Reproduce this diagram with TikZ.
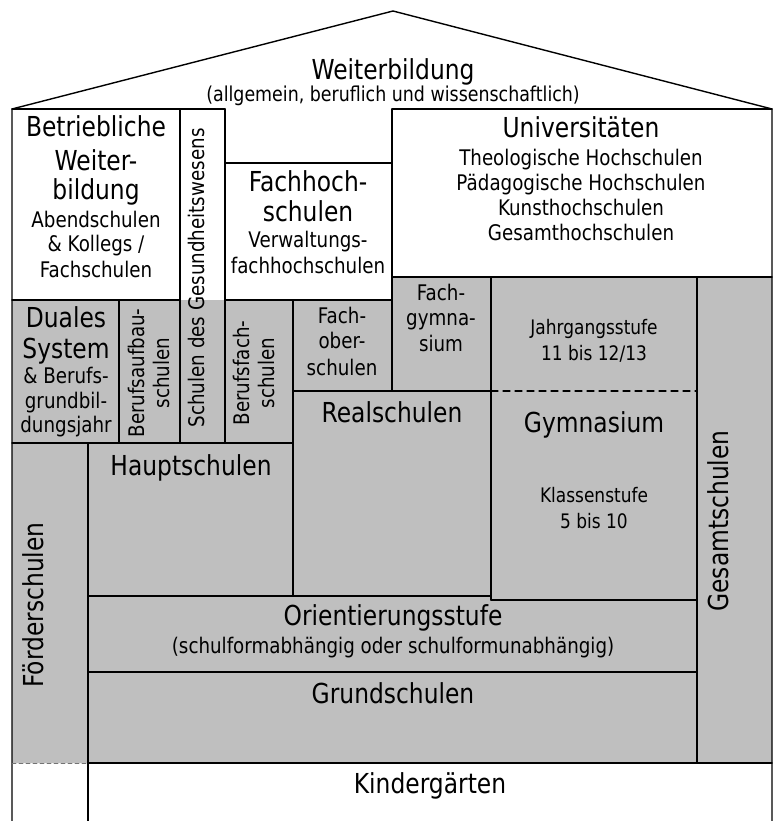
\documentclass[tikz,border=0pt]{standalone}
\usepackage{fontspec}
\setmainfont{DejaVu Sans}[FakeStretch=0.85]
\definecolor{cccccc}{rgb}{0.75,0.75,0.75}
\definecolor{qqqqqq}{rgb}{0,0,0}
\definecolor{wwwwww}{rgb}{0.45,0.45,0.45}
\tikzset{
  bigtxt/.style={font=\fontsize{27.5}{32}\selectfont,anchor=base,inner sep=0pt},
  midtxt/.style={font=\fontsize{21.5}{25}\selectfont,anchor=base,inner sep=0pt},
  smalltxt/.style={font=\fontsize{20}{24}\selectfont,anchor=base,inner sep=0pt},
  rottxt/.style={font=\fontsize{21.5}{25}\selectfont,rotate=90,align=center,inner sep=0pt},
  rotbig/.style={font=\fontsize{27.5}{32}\selectfont,rotate=90,inner sep=0pt}
}
\begin{document}
\begin{tikzpicture}[line cap=round,line join=round,x=1pt,y=-1pt,line width=1.4pt]
\useasboundingbox (0,0) rectangle (777,821);

\fill [color=cccccc] (12,300) -- (392,300) -- (392,277) -- (772,277) -- (772,763) -- (12,763) -- cycle;
\draw [color=qqqqqq] (12,821) -- (12,109) -- (393,11) -- (772,109) -- (772,821);
\draw (12,109)-- (225,109);
\draw (392,109)-- (772,109);
\draw (225,163)-- (392,163);
\draw (392,277)-- (772,277);
\draw (12,300)-- (180,300);
\draw (225,300)-- (392,300);
\draw (293,391)-- (491,391);
\draw [dash pattern=on 7pt off 5pt,line width=1.1pt] (491,391)-- (697,391);
\draw (12,443)-- (293,443);
\draw (88,596)-- (491,596);
\draw (491,600)-- (697,600);
\draw (88,672)-- (697,672);
\draw (88,763)-- (772,763);
\draw [color=wwwwww,dash pattern=on 4pt off 3pt,line width=0.8pt] (12,763)-- (88,763);
\draw (180,109)-- (180,443);
\draw (225,109)-- (225,443);
\draw (392,109)-- (392,391);
\draw (119,300)-- (119,443);
\draw (293,300)-- (293,596);
\draw (491,277)-- (491,600);
\draw (697,277)-- (697,763);
\draw (88,443)-- (88,821);

\node[bigtxt] (weiter) at (393,80) {Weiterbildung};
\node[midtxt,font=\fontsize{20.5}{24}\selectfont] (weiterSub) at (393,102) {(allgemein, beruflich und wissenschaftlich)};

\node[bigtxt] (betrA) at (96,137) {Betriebliche};
\node[bigtxt] (betrB) at (96,171) {Weiter-};
\node[bigtxt] (betrC) at (96,200) {bildung};
\node[midtxt] (abendA) at (96,227) {Abendschulen};
\node[midtxt] (abendB) at (96,251) {\& Kollegs /};
\node[midtxt] (abendC) at (96,277) {Fachschulen};

\node[bigtxt] (fhA) at (308,192) {Fachhoch-};
\node[bigtxt] (fhB) at (308,221) {schulen};
\node[midtxt] (vfhA) at (308,247) {Verwaltungs-};
\node[midtxt] (vfhB) at (308,273) {fachhochschulen};

\node[bigtxt] (uni) at (581,138) {Universitäten};
\node[midtxt] (uniA) at (581,166) {Theologische Hochschulen};
\node[midtxt] (uniB) at (581,190) {Pädagogische Hochschulen};
\node[midtxt] (uniC) at (581,215) {Kunsthochschulen};
\node[midtxt] (uniD) at (581,240) {Gesamthochschulen};

\node[bigtxt] (dualA) at (66,327) {Duales};
\node[bigtxt] (dualB) at (66,358) {System};
\node[midtxt] (bgjA) at (66,383) {\& Berufs-};
\node[midtxt] (bgjB) at (66,408) {grundbil-};
\node[midtxt] (bgjC) at (66,432) {dungsjahr};

\node[rottxt] (baufbau) at (149,373) {Berufsaufbau-\\schulen};
\node[rottxt] (gesund) at (196,278) {Schulen des Gesundheitswesens};
\node[rottxt] (bfach) at (254,373) {Berufsfach-\\schulen};

\node[midtxt] (fosA) at (342,323) {Fach-};
\node[midtxt] (fosB) at (342,348) {ober-};
\node[midtxt] (fosC) at (342,375) {schulen};

\node[midtxt] (fgymA) at (441,300) {Fach-};
\node[midtxt] (fgymB) at (441,325) {gymna-};
\node[midtxt] (fgymC) at (441,351) {sium};

\node[smalltxt] (jgsA) at (594,334) {Jahrgangsstufe};
\node[smalltxt] (jgsB) at (594,360) {11 bis 12/13};

\node[bigtxt] (real) at (392,422) {Realschulen};
\node[bigtxt] (gym) at (594,432) {Gymnasium};
\node[smalltxt] (klA) at (594,502) {Klassenstufe};
\node[smalltxt] (klB) at (594,528) {5 bis 10};
\node[bigtxt] (haupt) at (191,475) {Hauptschulen};

\node[rotbig] (foerder) at (33,605) {Förderschulen};
\node[rotbig] (gesamt) at (718,521) {Gesamtschulen};

\node[bigtxt] (orient) at (393,625) {Orientierungsstufe};
\node[midtxt] (orientSub) at (393,653) {(schulformabhängig oder schulformunabhängig)};
\node[bigtxt] (grund) at (393,703) {Grundschulen};
\node[bigtxt] (kiga) at (430,793) {Kindergärten};

\end{tikzpicture}
\end{document}
